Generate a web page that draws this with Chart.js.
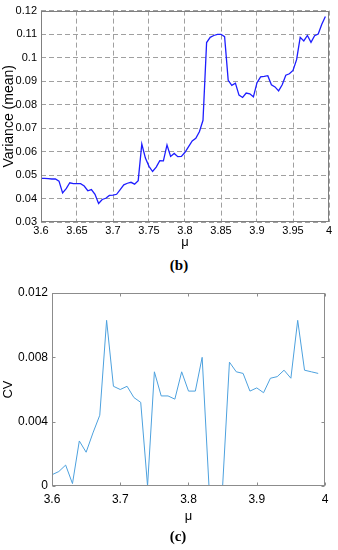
<!DOCTYPE html>
<html>
<head>
<meta charset="utf-8">
<script src="https://cdn.jsdelivr.net/npm/chart.js@4/dist/chart.umd.min.js"></script>
<style>
  body { margin: 0; background: #fff; width: 338px; height: 550px; position: relative; overflow: hidden; }
  canvas { position: absolute; left: 0; }
  .cap { position: absolute; font-family: "Liberation Serif", serif; font-weight: bold; font-size: 15px; transform: translate(-50%, -50%); }
</style>
</head>
<body>
<canvas id="grafico-b" width="338" height="250" style="top:0"></canvas>
<div class="cap" style="left:179px; top:265px">(b)</div>
<canvas id="grafico-c" width="338" height="250" style="top:280px"></canvas>
<div class="cap" style="left:178px; top:536px">(c)</div>
<script>
// (b) varianza media frente a mu
var muB = [3.600, 3.605, 3.610, 3.615, 3.620, 3.625, 3.630, 3.635, 3.640, 3.645,
           3.650, 3.655, 3.660, 3.665, 3.670, 3.675, 3.680, 3.685, 3.690, 3.695,
           3.700, 3.705, 3.710, 3.715, 3.720, 3.725, 3.730, 3.735, 3.740, 3.745,
           3.750, 3.755, 3.760, 3.765, 3.770, 3.775, 3.780, 3.785, 3.790, 3.795,
           3.800, 3.805, 3.810, 3.815, 3.820, 3.825, 3.830, 3.835, 3.840, 3.845,
           3.850, 3.855, 3.860, 3.865, 3.870, 3.875, 3.880, 3.885, 3.890, 3.895,
           3.900, 3.905, 3.910, 3.915, 3.920, 3.925, 3.930, 3.935, 3.940, 3.945,
           3.950, 3.955, 3.960, 3.965, 3.970, 3.975, 3.980, 3.985, 3.990, 3.995];
var varB = [0.0486, 0.0486, 0.0485, 0.0483, 0.0483, 0.0474, 0.0424, 0.0442, 0.0467, 0.0463,
            0.0463, 0.0463, 0.0453, 0.0433, 0.0438, 0.0418, 0.0379, 0.0396, 0.0401, 0.0413,
            0.0414, 0.0418, 0.0438, 0.0458, 0.0465, 0.0469, 0.0461, 0.0476, 0.0632, 0.0572,
            0.0537, 0.0515, 0.0534, 0.0561, 0.0560, 0.0628, 0.0579, 0.0592, 0.0578, 0.0579,
            0.0597, 0.0621, 0.0645, 0.0656, 0.0684, 0.0733, 0.1064, 0.1086, 0.1094, 0.1099,
            0.1099, 0.1089, 0.0903, 0.0882, 0.0891, 0.0840, 0.0830, 0.0849, 0.0846, 0.0833,
            0.0893, 0.0918, 0.0920, 0.0923, 0.0884, 0.0875, 0.0858, 0.0884, 0.0925, 0.0931,
            0.0945, 0.0991, 0.1086, 0.1071, 0.1094, 0.1065, 0.1093, 0.1100, 0.1142, 0.1175];
var ticksXB = [3.6, 3.65, 3.7, 3.75, 3.8, 3.85, 3.9, 3.95, 4];
var labelsXB = ['3.6', '3.65', '3.7', '3.75', '3.8', '3.85', '3.9', '3.95', '4'];
var ticksYB = [0.03, 0.04, 0.05, 0.06, 0.07, 0.08, 0.09, 0.1, 0.11, 0.12];
var labelsYB = ['0.03', '0.04', '0.05', '0.06', '0.07', '0.08', '0.09', '0.1', '0.11', '0.12'];

// (c) coeficiente de variacion
var muC = [3.60, 3.61, 3.62, 3.63, 3.64, 3.65, 3.66, 3.67, 3.68, 3.69,
           3.70, 3.71, 3.72, 3.73, 3.74, 3.75, 3.76, 3.77, 3.78, 3.79,
           3.80, 3.81, 3.82, 3.83, 3.84, 3.85, 3.86, 3.87, 3.88, 3.89,
           3.90, 3.91, 3.92, 3.93, 3.94, 3.95, 3.96, 3.97, 3.98, 3.99];
var cvC = [0.0007, 0.0009, 0.0013, 0.00015, 0.0028, 0.0021, 0.0033, 0.0044, 0.0103, 0.0062,
           0.0060, 0.0062, 0.0055, 0.0052, 0.0000, 0.0071, 0.0056, 0.0056, 0.0054, 0.0071,
           0.0059, 0.0059, 0.0080, 0.0000, 0.0000, 0.0000, 0.0077, 0.0071, 0.0070, 0.0059,
           0.0061, 0.0058, 0.0067, 0.0068, 0.0072, 0.0067, 0.0103, 0.0072, 0.0071, 0.0070];
var ticksXC = [3.6, 3.7, 3.8, 3.9, 4];
var labelsXC = ['3.6', '3.7', '3.8', '3.9', '4'];
var ticksYC = [0, 0.004, 0.008, 0.012];
var labelsYC = ['0', '0.004', '0.008', '0.012'];

Chart.defaults.color = '#000';
Chart.defaults.font.family = '"Liberation Sans", Arial, sans-serif';

function puntos(xs, ys) {
    return xs.map(function(x, i) { return { x: x, y: ys[i] }; });
}
function fijarTicks(lista) {
    return function(axis) { axis.ticks = lista.map(function(v) { return { value: v }; }); };
}

// marco alrededor del area y marcas interiores opcionales
var marco = {
    id: 'marco',
    afterDraw: function(chart, args, opts) {
        var a = chart.chartArea, ctx = chart.ctx;
        ctx.save();
        ctx.strokeStyle = opts.color;
        ctx.lineWidth = 1;
        ctx.setLineDash([]);
        var l = Math.round(a.left) + 0.5, r = Math.round(a.right) - 0.5;
        var t = Math.round(a.top) + 0.5, b = Math.round(a.bottom) - 0.5;
        ctx.strokeRect(l, t, r - l, b - t);
        if (opts.tick) {
            var L = opts.tick;
            ctx.beginPath();
            chart.scales.x.ticks.forEach(function(tk) {
                var px = Math.round(chart.scales.x.getPixelForValue(tk.value)) + 0.5;
                ctx.moveTo(px, b); ctx.lineTo(px, b - L);
                ctx.moveTo(px, t); ctx.lineTo(px, t + L);
            });
            chart.scales.y.ticks.forEach(function(tk) {
                var py = Math.round(chart.scales.y.getPixelForValue(tk.value)) + 0.5;
                ctx.moveTo(l, py); ctx.lineTo(l + L, py);
                ctx.moveTo(r, py); ctx.lineTo(r - L, py);
            });
            ctx.stroke();
        }
        ctx.restore();
    }
};

var chartB = new Chart(document.getElementById('grafico-b'), {
    type: 'line',
    data: {
        datasets: [{
            data: puntos(muB, varB),
            borderColor: 'rgb(30, 30, 255)',
            borderWidth: 1.3,
            pointRadius: 0,
            tension: 0
        }]
    },
    options: {
        responsive: false,
        animation: false,
        layout: { padding: { top: 7, right: 9, left: 0, bottom: 0 } },
        plugins: { legend: { display: false }, tooltip: { enabled: false }, marco: { color: '#808080' } },
        scales: {
            x: {
                type: 'linear', min: 3.6, max: 4,
                afterBuildTicks: fijarTicks(ticksXB),
                afterFit: function(s) { s.height = 28; },
                grid: { color: '#a0a0a0', drawTicks: false },
                border: { display: false, dash: [5, 3] },
                ticks: { font: { size: 11 }, padding: 2, maxRotation: 0, autoSkip: false,
                         callback: function(v, i) { return labelsXB[i]; } },
                title: { display: true, text: 'μ', font: { size: 13 }, padding: { top: 0, bottom: 0 } }
            },
            y: {
                min: 0.03, max: 0.12,
                afterBuildTicks: fijarTicks(ticksYB),
                afterFit: function(s) { s.width = 41; },
                grid: { color: '#a0a0a0', drawTicks: false },
                border: { display: false, dash: [5, 3] },
                ticks: { font: { size: 11 }, padding: 4, autoSkip: false,
                         callback: function(v, i) { return labelsYB[i]; } },
                title: { display: true, text: 'Variance (mean)', font: { size: 14 }, padding: { top: 1, bottom: 0 } }
            }
        }
    },
    plugins: [marco]
});

var chartC = new Chart(document.getElementById('grafico-c'), {
    type: 'line',
    data: {
        datasets: [{
            data: puntos(muC, cvC),
            borderColor: 'rgb(77, 161, 222)',
            borderWidth: 1,
            pointRadius: 0,
            tension: 0
        }]
    },
    options: {
        responsive: false,
        animation: false,
        layout: { padding: { top: 13, right: 13, left: 0, bottom: 0 } },
        plugins: { legend: { display: false }, tooltip: { enabled: false }, marco: { color: '#8c8c8c', tick: 3 } },
        scales: {
            x: {
                type: 'linear', min: 3.6, max: 4,
                afterBuildTicks: fijarTicks(ticksXC),
                afterFit: function(s) { s.height = 44; },
                grid: { display: false, drawTicks: false },
                border: { display: false },
                ticks: { font: { size: 12 }, padding: 6, maxRotation: 0, autoSkip: false,
                         callback: function(v, i) { return labelsXC[i]; } },
                title: { display: true, text: 'μ', font: { size: 13 }, padding: { top: 0, bottom: 6 } }
            },
            y: {
                min: 0, max: 0.012,
                afterBuildTicks: fijarTicks(ticksYC),
                afterFit: function(s) { s.width = 52; },
                grid: { display: false, drawTicks: false },
                border: { display: false },
                ticks: { font: { size: 12 }, padding: 4, autoSkip: false,
                         callback: function(v, i) { return labelsYC[i]; } },
                title: { display: true, text: 'CV', font: { size: 13 }, padding: { top: 1, bottom: 0 } }
            }
        }
    },
    plugins: [marco]
});
</script>
</body>
</html>
